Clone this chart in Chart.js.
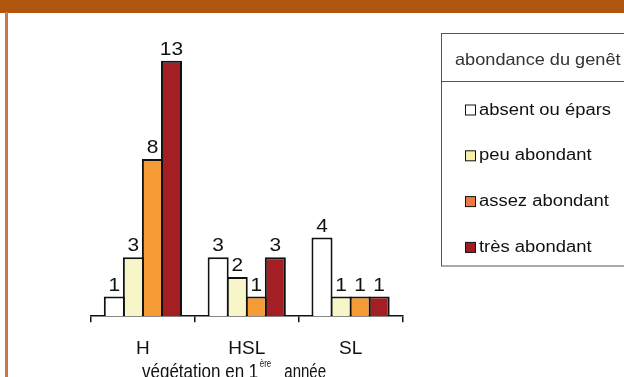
<!DOCTYPE html>
<html>
<head>
<meta charset="utf-8">
<script src="https://cdn.jsdelivr.net/npm/chart.js@4.4.1/dist/chart.umd.min.js"></script>
<style>
  html, body { margin: 0; padding: 0; background: #ffffff; }
  #wrap { position: relative; width: 624px; height: 377px; overflow: hidden; }
  #band { position: absolute; left: 0; top: 0; width: 624px; height: 12.5px; background: #b0560f; z-index: 2; }
  #edge { position: absolute; left: 5px; top: 12px; width: 3px; height: 370px; background: #c7784a; z-index: 2; }
  canvas { position: absolute; left: 0; top: 0; }
</style>
</head>
<body>
<div id="wrap">
  <div id="band"></div>
  <div id="edge"></div>
  <canvas id="chart" width="624" height="377"></canvas>
</div>
<script>
// données du graphique
const categories = ["H", "HSL", "SL"];
const seriesLabels = ["absent ou épars", "peu abondant", "assez abondant", "très abondant"];
const absentValues = [1, 3, 4];
const peuValues = [3, 2, 1];
const assezValues = [8, 1, 1];
const tresValues = [13, 3, 1];
const barColors = ["#ffffff", "#f8f6c9", "#f59b36", "#a31f23"];
const legendColors = ["#ffffff", "#f4f1a6", "#f07843", "#a11c22"];
const legendTitle = "abondance du genêt";

const FONT = "'Liberation Sans', Arial, Helvetica, sans-serif";

// texte étiré (la figure d'origine n'a pas les proportions d'Arial)
function drawStretched(ctx, text, x, y, sx, sy) {
  ctx.save();
  ctx.translate(x, y);
  ctx.scale(sx, sy || 1);
  ctx.fillText(text, 0, 0);
  ctx.restore();
  return ctx.measureText(text).width * sx;
}

// valeurs au-dessus des barres
const valueLabels = {
  id: "valueLabels",
  afterDatasetsDraw(chart) {
    const ctx = chart.ctx;
    ctx.save();
    ctx.font = "19px " + FONT;
    ctx.fillStyle = "#111";
    ctx.textAlign = "left";
    ctx.textBaseline = "alphabetic";
    chart.data.datasets.forEach((ds, i) => {
      chart.getDatasetMeta(i).data.forEach((bar, j) => {
        const txt = String(ds.data[j]);
        const w = ctx.measureText(txt).width * 1.1;
        drawStretched(ctx, txt, bar.x - w / 2, bar.y - 6, 1.1);
      });
    });
    ctx.restore();
  }
};

// titre de l'axe avec exposant
const axisTitle = {
  id: "axisTitle",
  afterDraw(chart) {
    const ctx = chart.ctx;
    ctx.save();
    ctx.fillStyle = "#111";
    ctx.textBaseline = "alphabetic";
    let x = 142;
    const y = 377.5;
    ctx.font = "17px " + FONT;
    x += drawStretched(ctx, "végétation en 1", x, y, 1.0, 1.15);
    ctx.font = "8px " + FONT;
    x += 1.5 + drawStretched(ctx, "ère", x + 1.5, y - 10.5, 1.0, 1.3);
    ctx.font = "15px " + FONT;
    drawStretched(ctx, "année", x + 13, y, 1.0, 1.3);
    ctx.restore();
  }
};

// légende encadrée à droite
const boxLegend = {
  id: "boxLegend",
  afterDraw(chart) {
    const ctx = chart.ctx;
    ctx.save();
    ctx.strokeStyle = "#555";
    ctx.lineWidth = 1;
    ctx.strokeRect(441.5, 33.5, 200, 232.5);
    ctx.beginPath();
    ctx.moveTo(441.5, 81.5);
    ctx.lineTo(624, 81.5);
    ctx.stroke();

    ctx.fillStyle = "#333";
    ctx.font = "16.5px " + FONT;
    ctx.textBaseline = "alphabetic";
    drawStretched(ctx, legendTitle, 455, 65, 1.1);

    ctx.font = "16px " + FONT;
    seriesLabels.forEach((label, i) => {
      const base = 114.5 + i * 45.8;
      ctx.fillStyle = legendColors[i];
      ctx.fillRect(465.5, base - 9.5, 10, 10);
      ctx.strokeStyle = "#111";
      ctx.strokeRect(465.5, base - 9.5, 10, 10);
      ctx.fillStyle = "#111";
      drawStretched(ctx, label, 479, base, 1.15);
    });
    ctx.restore();
  }
};

const seriesValues = [absentValues, peuValues, assezValues, tresValues];

new Chart(document.getElementById("chart"), {
  type: "bar",
  data: {
    labels: categories,
    datasets: seriesValues.map((vals, i) => ({
      label: seriesLabels[i],
      data: vals,
      backgroundColor: barColors[i],
      borderColor: "#111",
      borderWidth: 2,
      borderSkipped: "start",
      categoryPercentage: 0.734,
      // barres légèrement plus larges que leur case pour que les bords se superposent
      barPercentage: 1.105
    }))
  },
  options: {
    responsive: false,
    animation: false,
    layout: { padding: { left: 91, right: 221.5, top: 41, bottom: 1 } },
    plugins: {
      legend: { display: false },
      tooltip: { enabled: false }
    },
    scales: {
      x: {
        grid: {
          offset: true,
          drawOnChartArea: false,
          drawTicks: true,
          tickLength: 6,
          color: "#111",
          lineWidth: 1.5
        },
        border: { display: true, color: "#111", width: 1.5 },
        ticks: {
          color: "#111",
          padding: 15.5,
          font: { family: FONT, size: 19 }
        }
      },
      y: {
        display: false,
        min: 0,
        max: 14
      }
    }
  },
  plugins: [valueLabels, axisTitle, boxLegend]
});
</script>
</body>
</html>
